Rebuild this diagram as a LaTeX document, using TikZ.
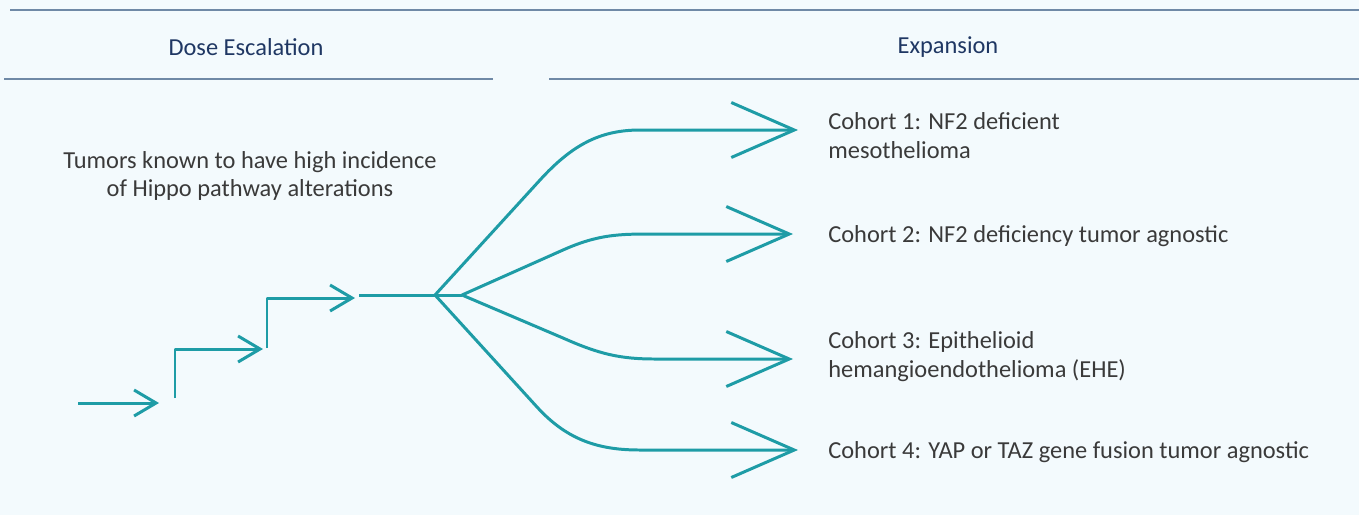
\documentclass[tikz,border=0pt]{standalone}
\usepackage{fontspec}
\setmainfont{Carlito}
\usetikzlibrary{arrows.meta}
\definecolor{bgColor}{HTML}{F3FAFD}
\definecolor{ruleColor}{HTML}{6F89A6}
\definecolor{headColor}{HTML}{1F3763}
\definecolor{textColor}{HTML}{3A3A3A}
\definecolor{flowColor}{HTML}{1E9CA6}

\begin{document}
\begin{tikzpicture}[x=0.02cm, y=-0.02cm,
    rule/.style={ruleColor, line width=1.2pt},
    head/.style={headColor, font=\fontsize{13.9}{16}\selectfont},
    cohort/.style={textColor, anchor=west, inner sep=0pt, align=left, font=\fontsize{13.9}{16.4}\selectfont},
    flow/.style={flowColor, line width=1.7pt, line join=round},
    stepArrow/.style={flow, -{Straight Barb[length=0.44cm, width=0.52cm, line width=1.7pt]}},
    bigArrow/.style={flow, -{Straight Barb[length=1.26cm, width=1.1cm, line width=1.7pt]}}]
    \fill[bgColor] (0,0) rectangle (1359,515);
    \useasboundingbox (0,0) rectangle (1359,515);
    % header rules
    \draw[rule] (10,10) -- (1359,10);
    \draw[rule] (4,79) -- (493,79);
    \draw[rule] (549,79) -- (1359,79);
    \node[head] (dose) at (246,47) {Dose Escalation};
    \node[head] (expansion) at (948,47) {Expansion};
    \node[textColor, align=center, font=\fontsize{13.9}{16.4}\selectfont] (tumors) at (250,176)
        {Tumors known to have high incidence\\of Hippo pathway alterations};
    % dose steps
    \coordinate (s0) at (78,403);
    \coordinate (s1) at (159,403);
    \coordinate (u1) at (175,398);
    \coordinate (s2) at (263,349);
    \coordinate (u2) at (267,348);
    \coordinate (s3) at (355,298);
    \coordinate (stem) at (359,295);
    \coordinate (A) at (435,295);
    \coordinate (B) at (462,295);
    \draw[stepArrow] (s0) -- (s1);
    \draw[stepArrow] (u1) |- (s2);
    \draw[stepArrow] (u2) |- (s3);
    \draw[flow] (stem) -- (A) -- (B);
    % cohorts
    \node[cohort] (c1) at (828,136) {Cohort 1: NF2 deficient\\mesothelioma};
    \node[cohort] (c2) at (828,236) {Cohort 2: NF2 deficiency tumor agnostic};
    \node[cohort] (c3) at (828,357) {Cohort 3: Epithelioid\\hemangioendothelioma (EHE)};
    \node[cohort] (c4) at (828,452) {Cohort 4: YAP or TAZ gene fusion tumor agnostic};
    \coordinate (t1) at (798,130);
    \coordinate (t2) at (793,234);
    \coordinate (t3) at (793,359);
    \coordinate (t4) at (798,450);
    \draw[bigArrow] (A) -- (540,180) .. controls (572,145) and (600,130) .. (640,130) -- (t1);
    \draw[bigArrow] (B) -- (563,250) .. controls (599,234) and (620,234) .. (655,234) -- (t2);
    \draw[bigArrow] (B) -- (563,338) .. controls (599,354) and (620,359) .. (655,359) -- (t3);
    \draw[bigArrow] (A) -- (537,407) .. controls (568,441) and (600,450) .. (640,450) -- (t4);
\end{tikzpicture}
\end{document}
